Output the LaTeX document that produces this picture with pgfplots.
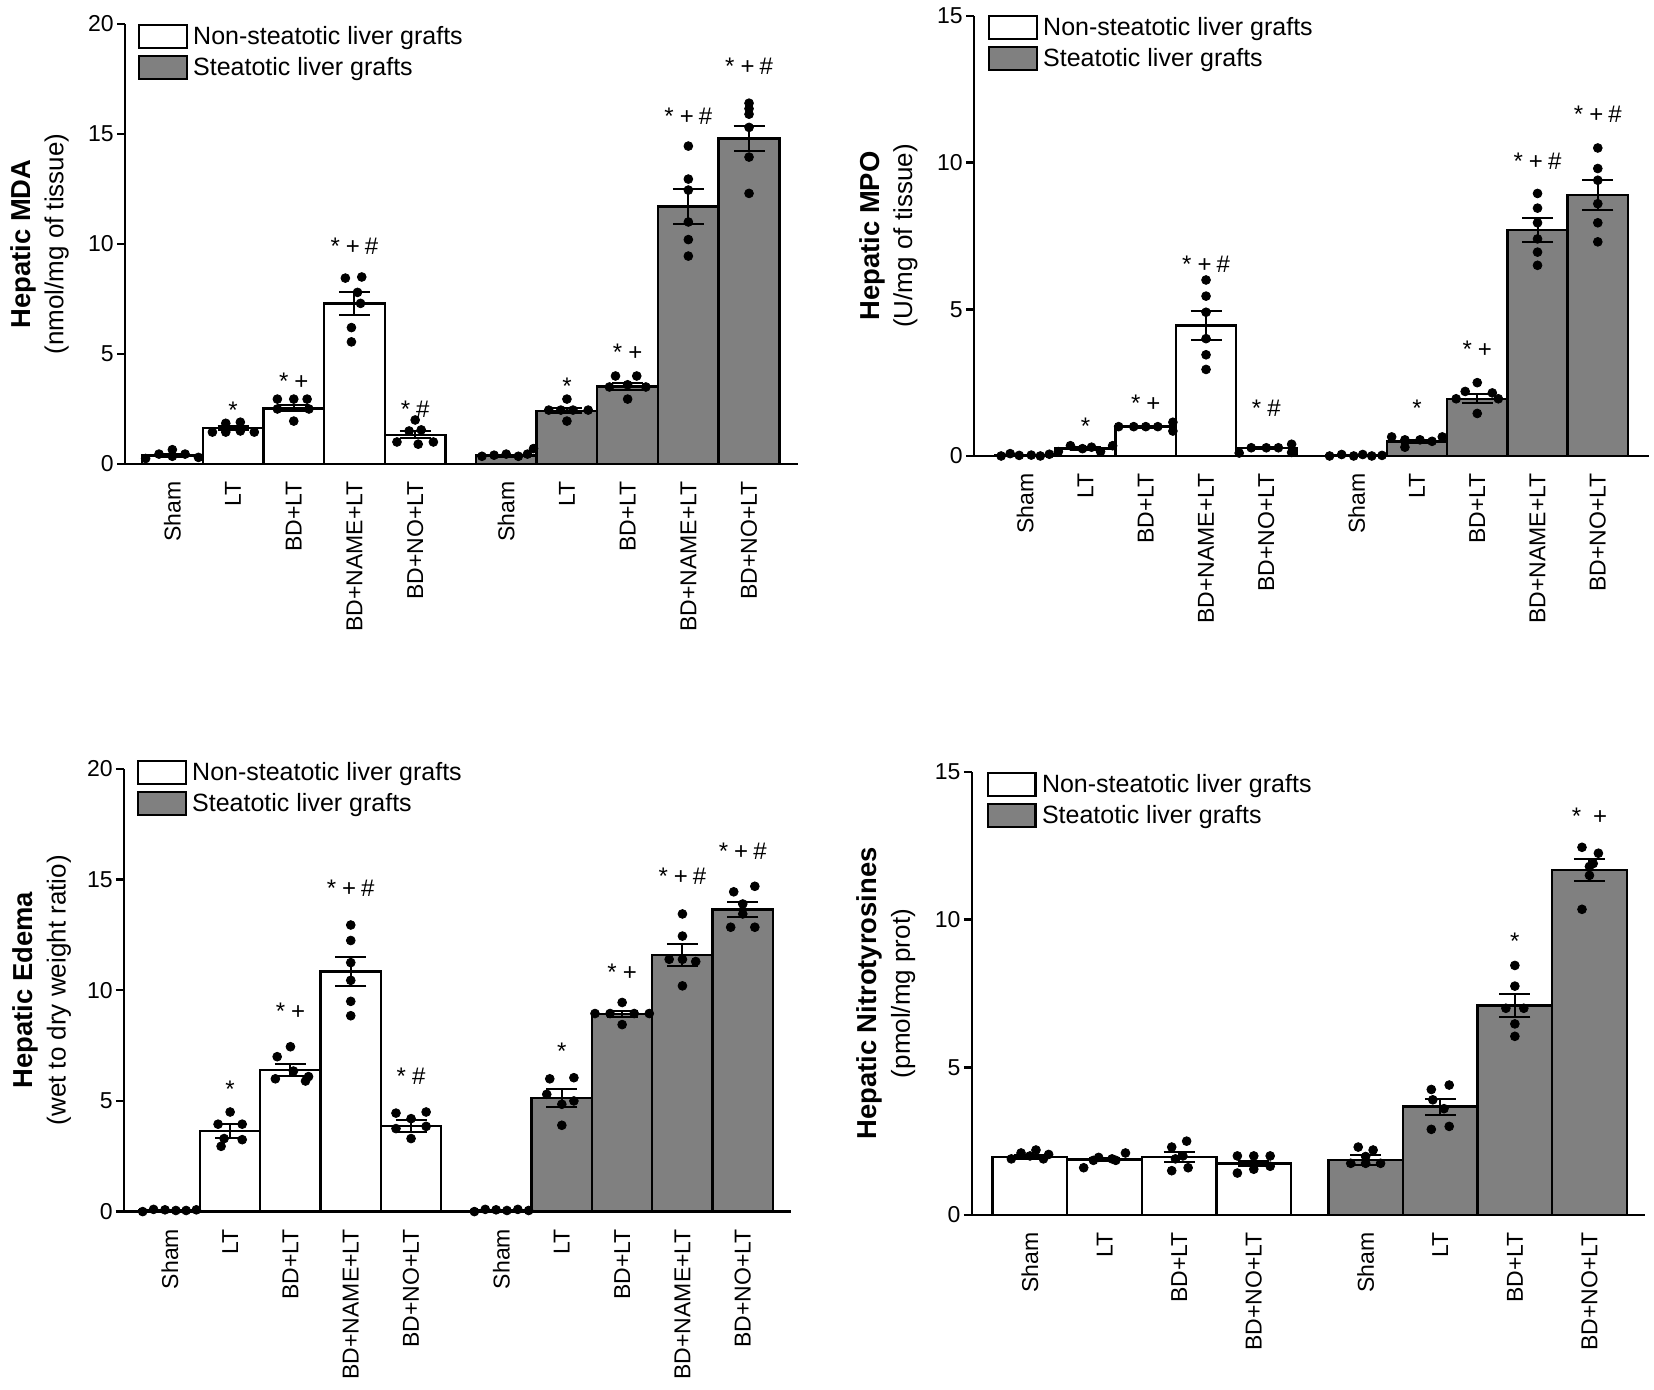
\documentclass[border=0pt]{standalone}
\usepackage{fontspec}
\setmainfont{Liberation Sans}
\usepackage{pgfplots}
\usepackage{pgfplotstable}
\pgfplotsset{compat=1.18}

\newcommand\tickfont{\fontsize{11.5}{13}\selectfont}
\newcommand\legfont{\fontsize{12.5}{14}\selectfont}
\newcommand\labfont{\fontsize{13}{16.5}\selectfont}
\newcommand\boldlab[1]{{\fontsize{13.7}{16.5}\selectfont\bfseries #1}}
\newcommand\annfont{\fontsize{12}{14}\selectfont}
\newcommand\aS{*}
\newcommand\aSP{*\hspace{3pt}+}
\newcommand\aSH{*\hspace{3pt}\#}
\newcommand\aSPH{*\hspace{3pt}+\hspace{2.5pt}\#}
\tikzset{ann/.style={font=\annfont, inner sep=0pt}}

% ---------------- MDA ----------------
\pgfplotstableread{
x y e
0 0.38 0.06
1 1.63 0.08
2 2.53 0.14
3 7.30 0.52
4 1.33 0.15
}\mdaN
\pgfplotstableread{
x y e
5.5 0.38 0.05
6.5 2.42 0.12
7.5 3.52 0.14
8.5 11.70 0.78
9.5 14.80 0.58
}\mdaS
\pgfplotstableread{
x y
-0.44 0.25
-0.22 0.45
0 0.65
0 0.35
0.21 0.45
0.43 0.30
0.66 1.45
0.88 1.85
0.88 1.45
1.12 1.90
1.12 1.50
1.35 1.45
1.73 2.95
2.00 2.95
2.22 2.95
1.73 2.50
2.00 1.95
2.25 2.50
2.85 8.45
3.12 8.50
3.05 7.80
3.10 7.30
2.95 6.20
2.95 5.55
3.70 1.00
3.90 1.50
4.00 2.00
4.10 1.55
4.30 1.00
4.05 0.90
5.10 0.35
5.30 0.40
5.50 0.45
5.70 0.35
5.85 0.45
5.95 0.70
6.20 2.45
6.40 2.45
6.50 2.95
6.60 2.45
6.85 2.45
6.50 1.95
7.30 4.00
7.65 4.00
7.20 3.50
7.80 3.50
7.50 2.95
7.50 3.60
8.50 14.45
8.50 12.95
8.50 12.45
8.50 11.00
8.50 10.20
8.50 9.45
9.50 16.40
9.50 16.15
9.50 15.90
9.50 15.30
9.50 13.95
9.50 12.30
}\mdaD

% ---------------- MPO ----------------
\pgfplotstableread{
x y e
0 0.03 0.01
1 0.25 0.04
2 1.00 0.03
3 4.45 0.50
4 0.28 0.03
}\mpoN
\pgfplotstableread{
x y e
5.5 0.03 0.01
6.5 0.50 0.06
7.5 1.95 0.15
8.5 7.70 0.42
9.5 8.90 0.50
}\mpoS
\pgfplotstableread{
x y
-0.40 0.00
-0.25 0.08
-0.10 0.02
0.10 0.03
0.25 0.00
0.40 0.06
0.55 0.15
0.75 0.35
0.95 0.25
1.10 0.30
1.25 0.15
1.45 0.35
1.55 1.00
1.80 1.00
2.00 1.00
2.20 1.00
2.45 1.15
2.45 0.85
3.00 6.00
3.00 5.45
3.00 4.90
3.00 4.00
3.00 3.45
3.00 2.95
3.55 0.10
3.75 0.28
4.00 0.28
4.20 0.28
4.42 0.40
4.42 0.12
5.05 0.00
5.25 0.05
5.45 0.00
5.60 0.05
5.75 0.00
5.92 0.02
6.08 0.65
6.30 0.30
6.30 0.55
6.55 0.55
6.75 0.50
6.92 0.65
7.50 2.50
7.30 2.20
7.75 2.15
7.15 1.95
7.85 1.95
7.50 1.45
8.50 8.95
8.50 8.45
8.50 7.95
8.50 7.40
8.50 6.95
8.50 6.50
9.50 10.50
9.50 9.80
9.50 9.40
9.50 8.60
9.50 7.95
9.50 7.30
}\mpoD

% ---------------- Edema ----------------
\pgfplotstableread{
x y e
0 0.05 0.01
1 3.65 0.33
2 6.40 0.28
3 10.85 0.65
4 3.88 0.27
}\edN
\pgfplotstableread{
x y e
5.5 0.05 0.01
6.5 5.12 0.40
7.5 8.93 0.12
8.5 11.60 0.50
9.5 13.65 0.35
}\edS
\pgfplotstableread{
x y
-0.45 0.00
-0.27 0.10
-0.08 0.08
0.10 0.05
0.27 0.05
0.44 0.08
1.00 4.50
0.80 3.95
1.20 3.95
0.90 3.30
1.20 3.25
0.85 2.95
2.00 7.45
1.78 7.00
2.05 6.35
1.75 6.00
2.25 5.90
2.30 6.10
3.00 12.95
3.00 12.25
3.00 11.25
3.00 10.45
3.00 9.50
3.00 8.85
3.75 4.45
4.25 4.50
4.00 4.20
3.75 3.75
4.25 3.85
4.00 3.30
5.05 0.00
5.23 0.10
5.41 0.08
5.59 0.05
5.77 0.10
5.95 0.05
6.30 6.00
6.70 6.05
6.25 5.30
6.70 5.00
6.50 4.85
6.50 3.90
7.50 9.45
7.05 8.95
7.30 8.95
7.70 8.95
7.95 8.95
7.50 8.45
8.50 13.45
8.50 12.45
8.28 11.40
8.50 11.40
8.72 11.30
8.50 10.20
9.35 14.45
9.70 14.70
9.50 13.90
9.50 13.45
9.30 12.85
9.70 12.85
}\edD

% ---------------- Nitrotyrosines ----------------
\pgfplotstableread{
x y e
0 1.97 0.06
1 1.88 0.06
2 1.97 0.16
3 1.75 0.08
}\niN
\pgfplotstableread{
x y e
4.5 1.87 0.17
5.5 3.67 0.27
6.5 7.10 0.38
7.5 11.68 0.37
}\niS
\pgfplotstableread{
x y
-0.25 1.90
-0.12 2.10
0.00 2.00
0.08 2.20
0.18 1.90
0.25 2.05
0.72 1.60
0.92 1.95
1.10 1.90
1.28 2.10
1.15 1.85
0.85 1.85
2.10 2.50
1.90 2.30
2.05 2.00
1.90 1.50
2.12 1.60
1.95 1.90
2.78 2.00
3.00 2.00
3.22 2.00
2.78 1.42
3.22 1.65
3.00 1.55
4.40 2.30
4.60 2.20
4.30 1.75
4.50 1.75
4.70 1.75
4.50 1.98
5.38 4.25
5.62 4.40
5.40 3.90
5.55 3.60
5.38 2.90
5.62 3.00
6.50 8.45
6.50 7.75
6.38 7.00
6.62 7.00
6.50 6.47
6.50 6.05
7.40 12.45
7.62 12.25
7.50 11.80
7.50 11.50
7.40 10.35
7.55 11.90
}\niD

\pgfplotsset{
  panel/.style={
    scale only axis, clip=false,
    axis lines=left,
    axis line style={-, line width=1.2pt, black},
    x axis line style={shorten <=-4pt},
    ymin=0,
    tick align=outside,
    major tick length=4pt,
    ytick style={line width=1.2pt, black},
    xtick style={draw=none},
    xticklabel style={yshift=-4.5pt, rotate=90, anchor=east, font=\tickfont, inner sep=0pt},
    yticklabel style={font=\tickfont, inner sep=1.5pt},
    /pgf/number format/assume math mode=true,
    y label style={at={(axis description cs:-0.127,0.5)}, anchor=center, align=center, font=\labfont},
    legend style={at={(axis description cs:0,1)}, anchor=north west,
      draw=none, fill=none, inner sep=0pt, outer sep=0pt, row sep=3pt,
      font=\legfont, nodes={inner sep=0pt}},
    legend cell align=left,
    legend image code/.code={\draw[##1] (0.6pt,-5.65pt) rectangle (24.4pt,5.65pt); \path (27pt,0pt);},
  },
  five/.style={
    xtick={0,1,2,3,4,5.5,6.5,7.5,8.5,9.5},
    xticklabels={Sham,LT,BD+LT,BD+NAME+LT,BD+NO+LT,Sham,LT,BD+LT,BD+NAME+LT,BD+NO+LT},
  },
  barN/.style={ybar, bar width=1, bar shift=0pt, fill=white, draw=black, line width=1.2pt, forget plot,
    error bars/y dir=both, error bars/y explicit,
    error bars/error bar style={line width=1pt, black},
    error bars/error mark options={rotate=90, mark size=7.75pt, line width=1pt, black}},
  barS/.style={barN, fill=gray},
  dots/.style={only marks, mark=*, mark size=2.2pt, black, forget plot},
}

\begin{document}
\begin{tikzpicture}
\useasboundingbox (0pt,0pt) rectangle (827pt,695pt);

% ---- top left: MDA ----
\begin{axis}[panel, five, at={(62.5pt,463pt)}, anchor=south west,
  width=336.3pt, height=220pt, xmin=-0.78, xmax=10.3, ymax=20, ytick={0,5,10,15,20},
  ylabel={\boldlab{Hepatic MDA}\\(nmol/mg of tissue)},
  legend style={xshift=6.5pt}]
\addlegendimage{fill=white, draw=black, line width=1.2pt}
\addlegendentry{Non-steatotic liver grafts}
\addlegendimage{fill=gray, draw=black, line width=1.2pt}
\addlegendentry{Steatotic liver grafts}
\addplot[barN] table[x=x, y=y, y error=e] {\mdaN};
\addplot[barS] table[x=x, y=y, y error=e] {\mdaS};
\addplot[dots] table[x=x, y=y] {\mdaD};
\node[ann, yshift=-2.5pt] at (axis cs:1,2.68) {\aS};
\node[ann] at (axis cs:2,3.78) {\aSP};
\node[ann] at (axis cs:3,9.9) {\aSPH};
\node[ann] at (axis cs:4,2.47) {\aSH};
\node[ann, yshift=-2.5pt] at (axis cs:6.5,3.78) {\aS};
\node[ann] at (axis cs:7.5,5.08) {\aSP};
\node[ann] at (axis cs:8.5,15.8) {\aSPH};
\node[ann] at (axis cs:9.5,18.1) {\aSPH};
\end{axis}

% ---- top right: MPO ----
\begin{axis}[panel, five, at={(487pt,467pt)}, anchor=south west,
  width=337.5pt, height=220pt, xmin=-0.85, xmax=10.35, ymax=15, ytick={0,5,10,15},
  ylabel={\boldlab{Hepatic MPO}\\(U/mg of tissue)}, legend style={xshift=7pt, yshift=0.5pt}]
\addlegendimage{fill=white, draw=black, line width=1.2pt}
\addlegendentry{Non-steatotic liver grafts}
\addlegendimage{fill=gray, draw=black, line width=1.2pt}
\addlegendentry{Steatotic liver grafts}
\addplot[barN] table[x=x, y=y, y error=e] {\mpoN};
\addplot[barS] table[x=x, y=y, y error=e] {\mpoS};
\addplot[dots] table[x=x, y=y] {\mpoD};
\node[ann, yshift=-2.5pt] at (axis cs:1,1.19) {\aS};
\node[ann] at (axis cs:2,1.79) {\aSP};
\node[ann] at (axis cs:3,6.52) {\aSPH};
\node[ann] at (axis cs:4,1.64) {\aSH};
\node[ann, yshift=-2.5pt] at (axis cs:6.5,1.79) {\aS};
\node[ann] at (axis cs:7.5,3.65) {\aSP};
\node[ann] at (axis cs:8.5,10.06) {\aSPH};
\node[ann] at (axis cs:9.5,11.64) {\aSPH};
\end{axis}

% ---- bottom left: Edema ----
\begin{axis}[panel, five, at={(62pt,89.2pt)}, anchor=south west,
  width=333.5pt, height=221.3pt, xmin=-0.76, xmax=10.3, ymax=20, ytick={0,5,10,15,20},
  ylabel={\boldlab{Hepatic Edema}\\(wet to dry weight ratio)},
  y label style={at={(axis description cs:-0.123,0.5)}},
  legend style={xshift=6.5pt, yshift=4.5pt}]
\addlegendimage{fill=white, draw=black, line width=1.2pt}
\addlegendentry{Non-steatotic liver grafts}
\addlegendimage{fill=gray, draw=black, line width=1.2pt}
\addlegendentry{Steatotic liver grafts}
\addplot[barN] table[x=x, y=y, y error=e] {\edN};
\addplot[barS] table[x=x, y=y, y error=e] {\edS};
\addplot[dots] table[x=x, y=y] {\edD};
\node[ann, yshift=-2.5pt] at (axis cs:1,5.76) {\aS};
\node[ann] at (axis cs:2,9.07) {\aSP};
\node[ann] at (axis cs:3,14.6) {\aSPH};
\node[ann] at (axis cs:4,6.12) {\aSH};
\node[ann, yshift=-2.5pt] at (axis cs:6.5,7.46) {\aS};
\node[ann] at (axis cs:7.5,10.8) {\aSP};
\node[ann] at (axis cs:8.5,15.15) {\aSPH};
\node[ann] at (axis cs:9.5,16.3) {\aSPH};
\end{axis}

% ---- bottom right: Nitrotyrosines ----
\begin{axis}[panel, at={(485.9pt,87.5pt)}, anchor=south west,
  width=336.8pt, height=221.5pt, xmin=-0.78, xmax=8.25, ymax=15, ytick={0,5,10,15},
  xtick={0,1,2,3,4.5,5.5,6.5,7.5},
  xticklabels={Sham,LT,BD+LT,BD+NO+LT,Sham,LT,BD+LT,BD+NO+LT},
  ylabel={\boldlab{Hepatic Nitrotyrosines}\\(pmol/mg prot)},
  legend style={xshift=7.5pt}]
\addlegendimage{fill=white, draw=black, line width=1.2pt}
\addlegendentry{Non-steatotic liver grafts}
\addlegendimage{fill=gray, draw=black, line width=1.2pt}
\addlegendentry{Steatotic liver grafts}
\addplot[barN] table[x=x, y=y, y error=e] {\niN};
\addplot[barS] table[x=x, y=y, y error=e] {\niS};
\addplot[dots] table[x=x, y=y] {\niD};
\node[ann, yshift=-2.5pt] at (axis cs:6.5,9.43) {\aS};
\node[ann] at (axis cs:7.5,13.5) {*\hspace{6pt}+};
\end{axis}
\end{tikzpicture}
\end{document}
